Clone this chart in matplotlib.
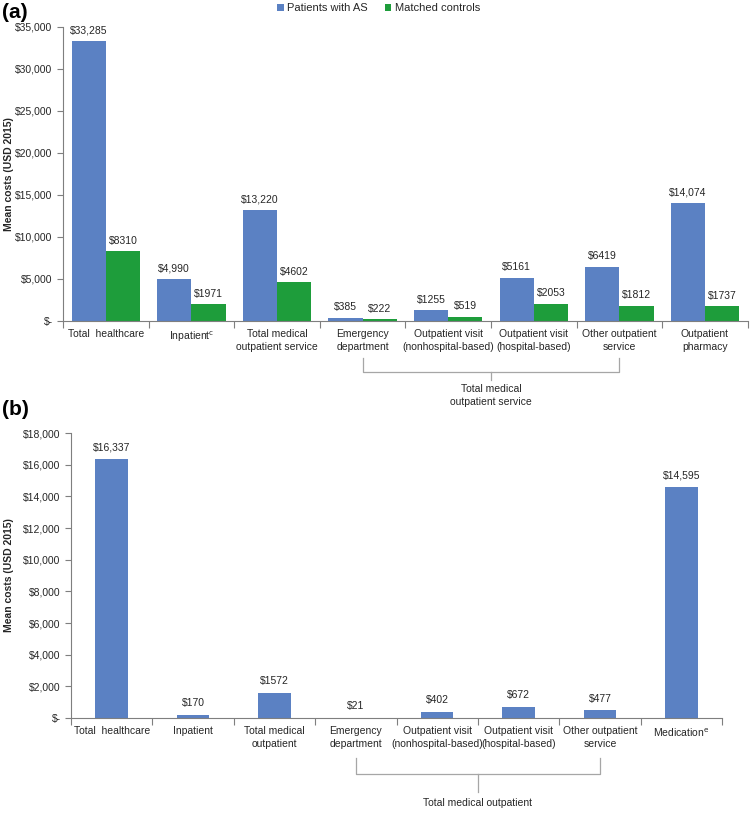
import matplotlib
matplotlib.use('Agg')
import matplotlib.pyplot as plt
import matplotlib.transforms as mtransforms

plt.rcParams['font.family'] = ['Liberation Sans', 'DejaVu Sans']

BLUE = '#5B81C3'
GREEN = '#1E9D3B'

# panel (a)
cats_a = ['Total  healthcare', 'Inpatient$^{\\mathrm{c}}$', 'Total medical\noutpatient service',
          'Emergency\ndepartment', 'Outpatient visit\n(nonhospital-based)',
          'Outpatient visit\n(hospital-based)', 'Other outpatient\nservice', 'Outpatient\npharmacy']
as_a = [33285, 4990, 13220, 385, 1255, 5161, 6419, 14074]
ctrl_a = [8310, 1971, 4602, 222, 519, 2053, 1812, 1737]
as_a_lbl = ['$33,285', '$4,990', '$13,220', '$385', '$1255', '$5161', '$6419', '$14,074']
ctrl_a_lbl = ['$8310', '$1971', '$4602', '$222', '$519', '$2053', '$1812', '$1737']

# panel (b)
cats_b = ['Total  healthcare', 'Inpatient', 'Total medical\noutpatient',
          'Emergency\ndepartment', 'Outpatient visit\n(nonhospital-based)',
          'Outpatient visit\n(hospital-based)', 'Other outpatient\nservice', 'Medication$^{\\mathrm{e}}$']
as_b = [16337, 170, 1572, 21, 402, 672, 477, 14595]
as_b_lbl = ['$16,337', '$170', '$1572', '$21', '$402', '$672', '$477', '$14,595']

FS = 7.5
TXT = '#262626'


def money(v, pos):
    if v == 0:
        return '$-'
    return '${:,.0f}'.format(v)


def style_axes(ax, n, ymax, step, labels, ylab_x):
    ax.set_xlim(-0.5, n - 0.5)
    ax.set_ylim(0, ymax)
    ax.set_yticks(range(0, ymax + 1, step))
    ax.yaxis.set_major_formatter(plt.FuncFormatter(money))
    ax.set_xticks(range(n))
    ax.set_xticklabels(labels, fontsize=FS, color=TXT, linespacing=1.3)
    ax.set_xticks([i - 0.5 for i in range(n + 1)], minor=True)
    ax.tick_params(axis='x', which='major', length=0, pad=6)
    ax.tick_params(axis='x', which='minor', length=5, color='#7f7f7f', width=0.8)
    ax.tick_params(axis='y', labelsize=FS, labelcolor=TXT, length=4, color='#7f7f7f', width=0.8)
    for s in ['top', 'right']:
        ax.spines[s].set_visible(False)
    for s in ['left', 'bottom']:
        ax.spines[s].set_color('#7f7f7f')
        ax.spines[s].set_linewidth(0.8)
    ax.set_ylabel('Mean costs (USD 2015)', fontsize=FS, fontweight='bold', color=TXT)
    ax.yaxis.set_label_coords(ylab_x, 0.5)


def bracket(ax, x0, x1, ytop, yline, ystub, ytext, text):
    tr = mtransforms.blended_transform_factory(ax.transData, ax.transAxes)
    kw = dict(transform=tr, clip_on=False, color='#a6a6a6', lw=0.9)
    ax.plot([x0, x0, x1, x1], [ytop, yline, yline, ytop], **kw)
    xm = (x0 + x1) / 2
    ax.plot([xm, xm], [yline, ystub], **kw)
    ax.text(xm, ytext, text, transform=tr, ha='center', va='top', fontsize=FS,
            color=TXT, linespacing=1.3)


fig = plt.figure(figsize=(7.5, 8.14), dpi=100)

ax1 = fig.add_axes([0.084, 0.6057, 0.913, 0.3612])
x = list(range(len(cats_a)))
b1 = ax1.bar([i - 0.2 for i in x], as_a, width=0.4, color=BLUE, label='Patients with AS')
b2 = ax1.bar([i + 0.2 for i in x], ctrl_a, width=0.4, color=GREEN, label='Matched controls')
ax1.bar_label(b1, labels=as_a_lbl, padding=4, fontsize=FS, color=TXT)
ax1.bar_label(b2, labels=ctrl_a_lbl, padding=4, fontsize=FS, color=TXT)
style_axes(ax1, len(cats_a), 35000, 5000, cats_a, -0.072)
bracket(ax1, 3, 6, -0.125, -0.175, -0.2, -0.215, 'Total medical\noutpatient service')
fig.text(0.003, 0.985, '(a)', fontsize=15, fontweight='bold', va='center', ha='left')
fig.legend(handles=[b1, b2], loc='center', bbox_to_anchor=(0.505, 0.99), ncol=2, frameon=False,
           fontsize=8, handlelength=0.6, handleheight=0.6, handletextpad=0.3, columnspacing=1.5,
           labelcolor=TXT)

ax2 = fig.add_axes([0.0947, 0.1179, 0.868, 0.3501])
b3 = ax2.bar(range(len(cats_b)), as_b, width=0.4, color=BLUE)
ax2.bar_label(b3, labels=as_b_lbl, padding=5, fontsize=FS, color=TXT)
style_axes(ax2, len(cats_b), 18000, 2000, cats_b, -0.088)
bracket(ax2, 3, 6, -0.14, -0.195, -0.26, -0.28, 'Total medical outpatient')
fig.text(0.003, 0.497, '(b)', fontsize=15, fontweight='bold', va='center', ha='left')

fig.savefig('out.png', dpi=100)
